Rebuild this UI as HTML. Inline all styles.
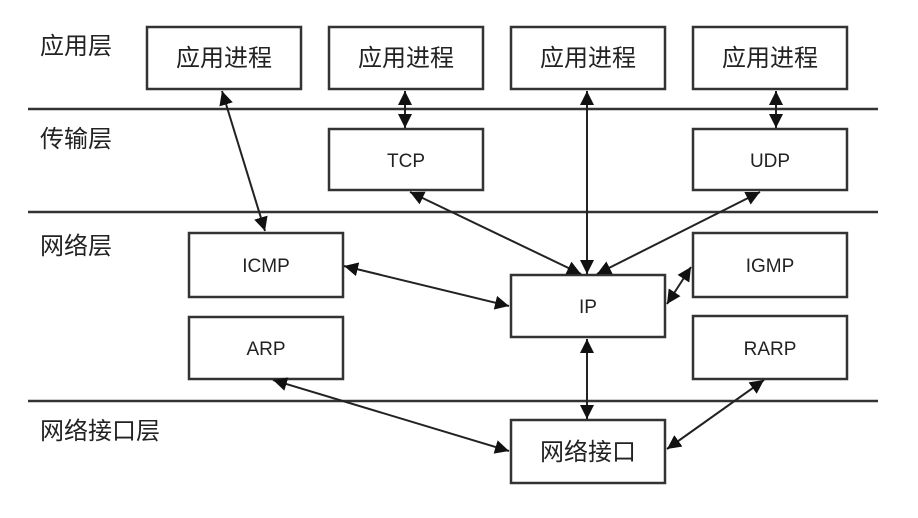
<!DOCTYPE html>
<html><head><meta charset="utf-8"><style>
html,body{margin:0;padding:0;background:#fff;}
svg{display:block;}
text{font-family:"Liberation Sans","Noto Sans CJK SC",sans-serif;fill:#222;}
.cj{font-size:24px;}
.lt{font-size:19px;}
</style></head><body>
<svg width="918" height="518" viewBox="0 0 918 518" xmlns="http://www.w3.org/2000/svg">
<defs>
<marker id="a" viewBox="0 0 10 10" refX="10" refY="5" markerWidth="14" markerHeight="14" markerUnits="userSpaceOnUse" orient="auto-start-reverse">
<path d="M0,0 L10,5 L0,10 z" fill="#111"/></marker>
</defs>
<g stroke="#333" stroke-width="2.5">
<line x1="28" y1="109" x2="878" y2="109"/>
<line x1="28" y1="212" x2="878" y2="212"/>
<line x1="28" y1="401" x2="878" y2="401"/>
</g>
<g fill="#fff" stroke="#333" stroke-width="2.5">
<rect x="147" y="27" width="154" height="62"/>
<rect x="329" y="27" width="154" height="62"/>
<rect x="511" y="27" width="154" height="62"/>
<rect x="693" y="27" width="154" height="62"/>
<rect x="329" y="129" width="154" height="61"/>
<rect x="693" y="129" width="154" height="61"/>
<rect x="189" y="233" width="154" height="64"/>
<rect x="693" y="233" width="154" height="64"/>
<rect x="511" y="275" width="154" height="62"/>
<rect x="189" y="317" width="154" height="62"/>
<rect x="693" y="316" width="154" height="63"/>
<rect x="511" y="420" width="154" height="63"/>
</g>
<g stroke="#222" stroke-width="2" marker-start="url(#a)" marker-end="url(#a)">
<line x1="222" y1="91" x2="265" y2="231"/>
<line x1="405" y1="91" x2="405" y2="128"/>
<line x1="587" y1="91" x2="587" y2="274"/>
<line x1="776" y1="91" x2="776" y2="128"/>
<line x1="410" y1="192" x2="581" y2="274"/>
<line x1="760" y1="192" x2="597" y2="274"/>
<line x1="344" y1="266" x2="509" y2="306"/>
<line x1="691" y1="267" x2="667" y2="304"/>
<line x1="587" y1="339" x2="587" y2="419"/>
<line x1="273" y1="380" x2="509" y2="451"/>
<line x1="764" y1="380" x2="667" y2="449"/>
</g>
<text class="cj" x="40" y="54">应用层</text>
<text class="cj" x="40" y="147">传输层</text>
<text class="cj" x="40" y="254">网络层</text>
<text class="cj" x="40" y="439">网络接口层</text>
<g text-anchor="middle">
<text class="cj" x="224" y="66">应用进程</text>
<text class="cj" x="406" y="66">应用进程</text>
<text class="cj" x="588" y="66">应用进程</text>
<text class="cj" x="770" y="66">应用进程</text>
<text class="lt" x="406" y="167">TCP</text>
<text class="lt" x="770" y="167">UDP</text>
<text class="lt" x="266" y="272">ICMP</text>
<text class="lt" x="770" y="272">IGMP</text>
<text class="lt" x="588" y="313">IP</text>
<text class="lt" x="266" y="355">ARP</text>
<text class="lt" x="770" y="355">RARP</text>
<text class="cj" x="588" y="460">网络接口</text>
</g>
</svg>
</body></html>
